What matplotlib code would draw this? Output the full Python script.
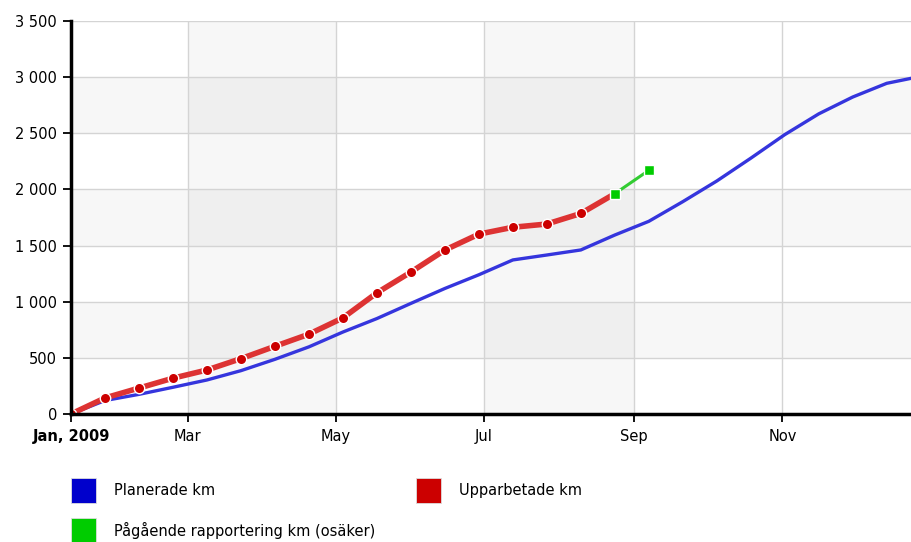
import numpy as np
import pandas as pd
import matplotlib
matplotlib.use('Agg')
import matplotlib.pyplot as plt
import matplotlib.dates as mdates
from matplotlib.patches import Rectangle

# two-week reporting dates
dates = pd.to_datetime([
    '2009-01-12', '2009-01-26', '2009-02-09', '2009-02-23', '2009-03-09',
    '2009-03-23', '2009-04-06', '2009-04-20', '2009-05-04', '2009-05-18',
    '2009-06-01', '2009-06-15', '2009-06-29', '2009-07-13', '2009-07-27',
    '2009-08-10', '2009-08-24', '2009-09-07', '2009-09-21', '2009-10-05',
    '2009-10-19', '2009-11-02', '2009-11-16', '2009-11-30', '2009-12-14',
    '2009-12-28'])

planerade = [0, 120, 175, 238, 303, 386, 487, 598, 730, 850, 985, 1118, 1240,
             1372, 1416, 1461, 1594, 1716, 1891, 2075, 2278, 2488, 2673, 2823,
             2945, 3007]
upparbetade = [0, 143, 231, 319, 392, 493, 603, 711, 856, 1079, 1264, 1460,
               1602, 1663, 1692, 1786, 1962]
pagaende = [1962, 2170]

tick_dates = pd.to_datetime(['2009-01-12', '2009-03-01', '2009-05-01',
                             '2009-07-01', '2009-09-01', '2009-11-01'])
tick_labels = ['Jan, 2009', 'Mar', 'May', 'Jul', 'Sep', 'Nov']
yticks = [0, 500, 1000, 1500, 2000, 2500, 3000, 3500]

legend_names = ['Planerade km', 'Upparbetade km', 'Pågående rapportering km (osäker)']
legend_colors = ['#0000cc', '#cc0000', '#00cc00']

plt.rcParams['font.family'] = ['DejaVu Sans']
fig = plt.figure(figsize=(9.11, 5.42), dpi=100)
ax = fig.add_axes([71/911, 1-414/542, 1-71/911, 393/542])

x0 = pd.Timestamp('2009-01-12')
x1 = pd.Timestamp('2009-12-24')
ax.set_xlim(x0, x1)
ax.set_ylim(0, 3500)

# shaded bands
for a, b in [('2009-03-01', '2009-05-01'), ('2009-07-01', '2009-09-01')]:
    ax.axvspan(pd.Timestamp(a), pd.Timestamp(b), color='black', alpha=0.03, lw=0, zorder=0)
for a, b in [(500, 1000), (1500, 2000), (2500, 3000)]:
    ax.axhspan(a, b, color='black', alpha=0.03, lw=0, zorder=0)

for t in tick_dates[1:]:
    ax.axvline(t, color='#d4d4d4', lw=1, zorder=1)
for y in yticks[1:]:
    ax.axhline(y, color='#d4d4d4', lw=1, zorder=1)

ax.plot(dates, planerade, color='#3535dd', lw=2.4, zorder=3, solid_capstyle='round')
ax.plot(dates[:len(upparbetade)], upparbetade, color='#dd3333', lw=4, zorder=4)
ax.plot(dates[:len(upparbetade) - 1], upparbetade[:-1], ls='none', marker='o',
        ms=7.5, mfc='#cc0000', mec='white', mew=1, zorder=5)
ax.plot(dates[len(upparbetade) - 1:len(upparbetade) + 1], pagaende, color='#33cc33',
        lw=2.2, marker='s', ms=7, mfc='#00cc00', mec='white', mew=1, zorder=6)

ax.set_xticks(tick_dates)
ax.set_xticklabels(tick_labels, fontsize=10.5)
ax.get_xticklabels()[0].set_fontweight('bold')
ax.set_yticks(yticks)
ax.set_yticklabels([f'{v:,}'.replace(',', ' ') for v in yticks], fontsize=10.5)
ax.tick_params(axis='both', direction='out', length=6, width=1.3, color='black')
ax.tick_params(axis='x', pad=5)
ax.tick_params(axis='y', pad=4)

for s in ['top', 'right']:
    ax.spines[s].set_visible(False)
ax.spines['left'].set_linewidth(2.5)
ax.spines['bottom'].set_linewidth(2.5)
ax.spines['left'].set_zorder(7)
ax.spines['bottom'].set_zorder(7)

# legend
pos = [(71, 478), (416, 478), (71, 518)]
for (px, py), name, c in zip(pos, legend_names, legend_colors):
    fig.patches.append(Rectangle((px/911, 1-(py+25)/542), 25/911, 25/542,
                                 transform=fig.transFigure, facecolor=c,
                                 edgecolor='#dddddd', lw=0.6))
    fig.text((px+43)/911, 1-(py+12.5)/542, name, fontsize=10.5, va='center', ha='left')

fig.savefig('out.png', dpi=100)
